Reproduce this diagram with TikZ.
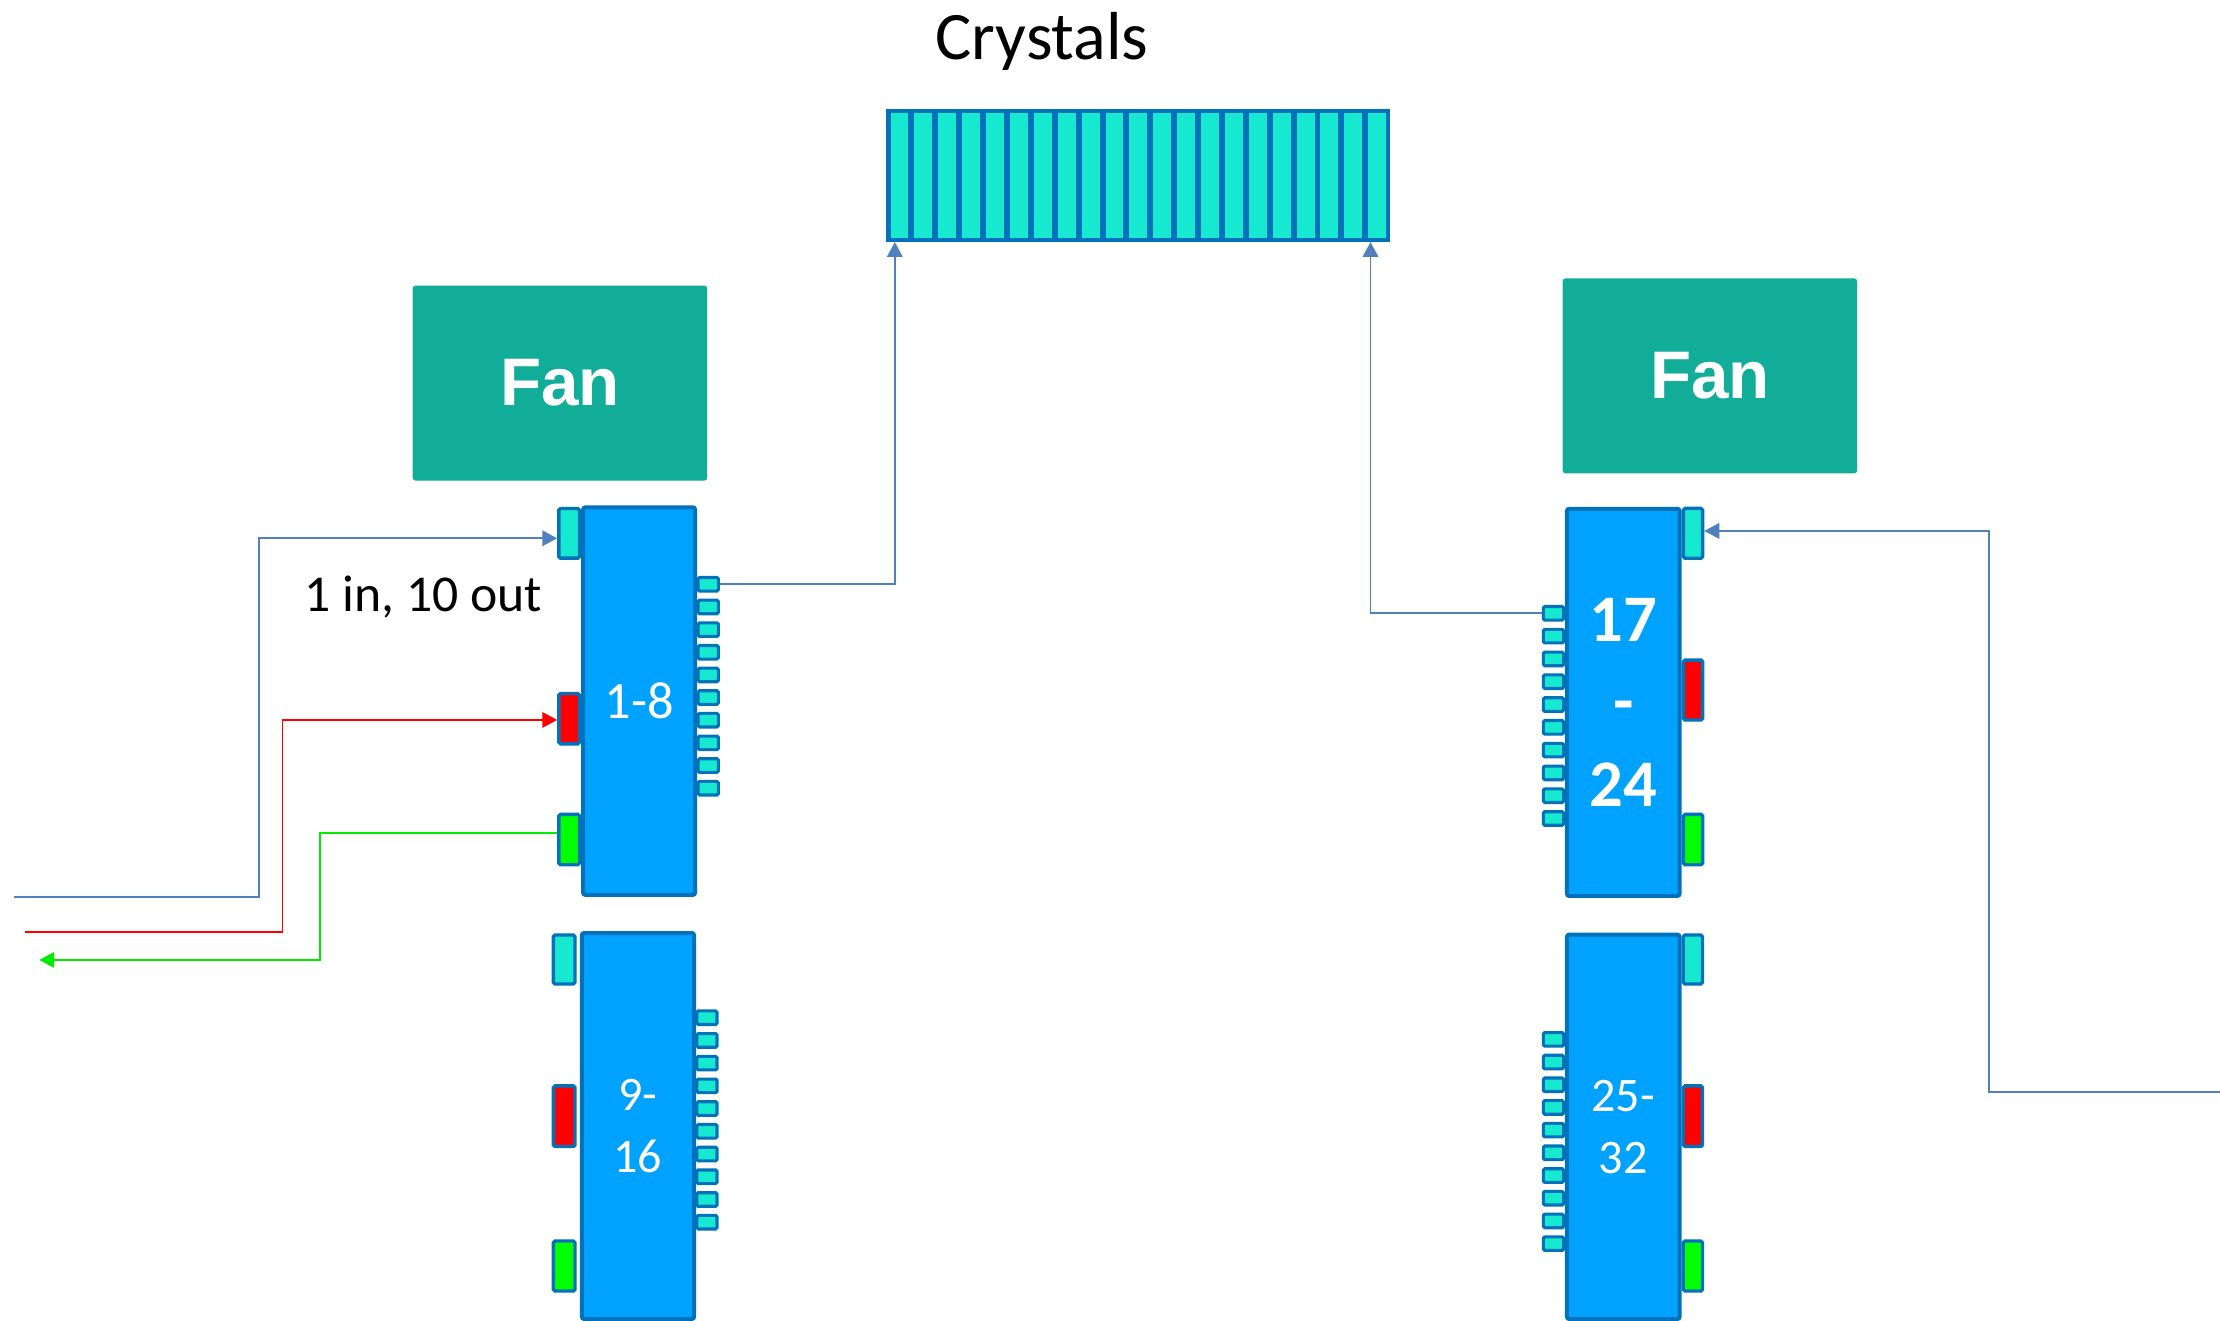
\documentclass[tikz,border=0pt]{standalone}
\usepackage{fontspec}
\setmainfont{Carlito}
\newfontfamily\fanfont{Liberation Sans}
\usetikzlibrary{arrows.meta}
\definecolor{pborder}{RGB}{0,114,188}
\definecolor{modblue}{RGB}{0,162,255}
\definecolor{cyanp}{RGB}{23,232,208}
\definecolor{fanc}{RGB}{18,173,152}
\definecolor{bluel}{RGB}{79,129,189}
\definecolor{redp}{RGB}{255,0,0}
\definecolor{greenp}{RGB}{0,255,0}
\definecolor{greenl}{RGB}{0,235,0}
\tikzset{
 box/.style={draw=pborder, fill=modblue, line width=2.8pt, rounded corners=1.5pt, inner sep=0pt, text=white, align=center},
 port/.style={draw=pborder, line width=2.4pt, rounded corners=1.2pt, inner sep=0pt},
 sport/.style={draw=pborder, fill=cyanp, line width=2.2pt, rounded corners=1pt, inner sep=0pt, minimum width=14.3pt, minimum height=9.6pt},
 cell/.style={draw=pborder, fill=cyanp, line width=3pt, inner sep=0pt, minimum width=15.67pt, minimum height=91pt},
 fanbox/.style={fill=fanc, rounded corners=2pt, minimum width=208pt, minimum height=137.7pt, text=white, font=\fanfont\bfseries\fontsize{47.5}{52}\selectfont},
 wire/.style={line width=1.3pt},
 arr/.style={-{Triangle[length=10.5pt,width=11pt]}},
}
\begin{document}
\begin{tikzpicture}[x=1pt,y=-1pt]
\useasboundingbox (0,0) rectangle (1568,933);
\fill[white] (0,0) rectangle (1568,933);

% title
\node[font=\fontsize{48}{56}\selectfont] (title) at (736,29) {Crystals};

% crystals
\foreach \i in {1,...,21}
  \node[cell] (c\i) at ({626+9.335+(\i-1)*16.87},124) {};

% fans
\node[fanbox] (fanL) at (395.5,270.6) {Fan};
\node[fanbox] (fanR) at (1207.7,265.5) {Fan};

% module 1-8 ports
\node[port, fill=cyanp, minimum width=14.6pt, minimum height=35.1pt] (Acy) at (402,376.7) {};
\node[port, fill=redp, minimum width=14.6pt, minimum height=35.5pt] (Ared) at (402,507.6) {};
\node[port, fill=greenp, minimum width=14.6pt, minimum height=35.6pt] (Agr) at (402,593) {};
\foreach \k in {0,...,9}
  \node[sport] (As\k) at (500.2,{412.7+16*\k}) {};
\node[box, minimum width=79pt, minimum height=273.7pt, font=\fontsize{37}{44}\selectfont] (A) at (451.4,495.2) {1-8};

% module 9-16
\node[port, fill=cyanp, minimum width=15.3pt, minimum height=34.6pt] (Bcy) at (398.5,677.7) {};
\node[port, fill=redp, minimum width=15.3pt, minimum height=42.8pt] (Bred) at (398.5,788.4) {};
\node[port, fill=greenp, minimum width=15.3pt, minimum height=35.3pt] (Bgr) at (398.5,894.2) {};
\foreach \k in {0,...,9}
  \node[sport] (Bs\k) at (499.3,{718.8+16.05*\k}) {};
\node[box, minimum width=79.2pt, minimum height=272.6pt, font=\fontsize{34}{44}\selectfont] (B) at (450.6,795.3) {9-\\16};

% module 17-24
\node[port, fill=cyanp, minimum width=13.6pt, minimum height=35.2pt] (Ccy) at (1195.8,376.7) {};
\node[port, fill=redp, minimum width=13.6pt, minimum height=42.3pt] (Cred) at (1195.8,487.4) {};
\node[port, fill=greenp, minimum width=13.6pt, minimum height=35.6pt] (Cgr) at (1195.8,593) {};
\foreach \k in {0,...,9}
  \node[sport] (Cs\k) at (1097.2,{433.2+16.1*\k}) {};
\node[box, minimum width=79.5pt, minimum height=273.5pt, font=\bfseries\fontsize{47}{58}\selectfont] (C) at (1146.5,496.1) {17\\-\\24};

% module 25-32
\node[port, fill=cyanp, minimum width=13.6pt, minimum height=34.6pt] (Dcy) at (1195.7,677.7) {};
\node[port, fill=redp, minimum width=13.6pt, minimum height=42.8pt] (Dred) at (1195.7,788.4) {};
\node[port, fill=greenp, minimum width=13.6pt, minimum height=35.3pt] (Dgr) at (1195.7,894.2) {};
\foreach \k in {0,...,9}
  \node[sport] (Ds\k) at (1097.2,{734.1+16.03*\k}) {};
\node[box, minimum width=79.5pt, minimum height=271.5pt, font=\fontsize{34}{44}\selectfont] (D) at (1146.5,795.9) {\raisebox{-2pt}{25-}\\\raisebox{-2pt}{32}};

% label
\node[font=\fontsize{36.5}{42}\selectfont] (lbl) at (299,422) {1 in, 10 out};

% connectors
\coordinate (bIn) at (10,633.3);
\coordinate (bBend) at (183,380.2);
\draw[wire, bluel, arr] (bIn) -| (bBend) -- (bBend -| Acy.west);

\coordinate (rIn) at (17.6,658);
\coordinate (rBend) at (199.5,508.5);
\draw[wire, redp, arr] (rIn) -| (rBend) -- (rBend -| Ared.west);

\coordinate (gBend) at (226,588.6);
\coordinate (gOut) at (27.8,678);
\draw[wire, greenl, arr] (gBend -| Agr.west) -- (gBend) |- (gOut);

\coordinate (cL) at (632,171);
\draw[wire, bluel, arr] (As0.east) -| (cL);
\coordinate (cR) at (968,171);
\draw[wire, bluel, arr] (Cs0.west) -| (cR);

\coordinate (rtIn) at (1568,771);
\coordinate (rtBend) at (1405,375);
\draw[wire, bluel, arr] (rtIn) -| (rtBend) -- (rtBend -| Ccy.east);
\end{tikzpicture}
\end{document}
